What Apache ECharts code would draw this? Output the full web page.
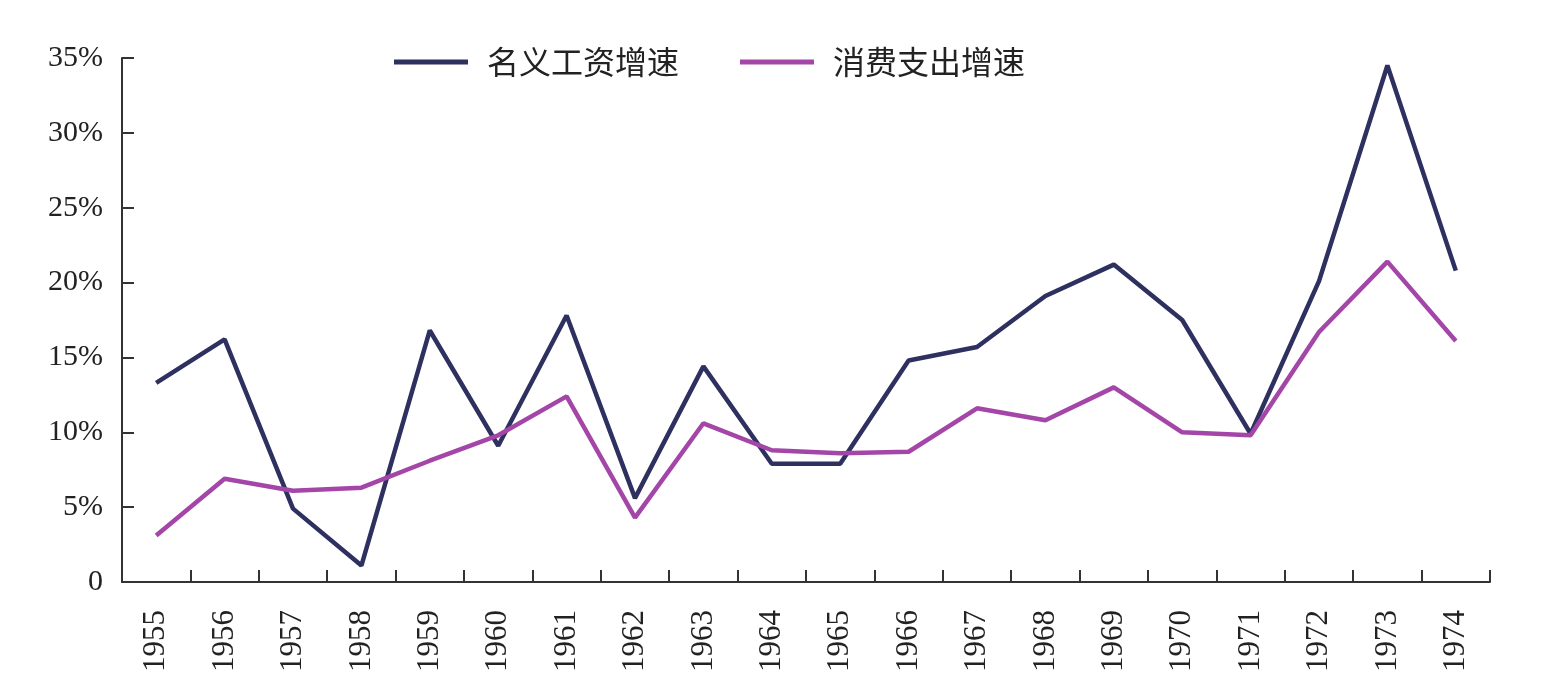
<!DOCTYPE html>
<html><head><meta charset="utf-8">
<script src="https://cdn.jsdelivr.net/npm/echarts@6/dist/echarts.min.js"></script>
<style>html,body{margin:0;padding:0;background:#fff}#c{width:1544px;height:695px}</style>
</head><body><div id="c"></div>
<script>
const years = ['1955','1956','1957','1958','1959','1960','1961','1962','1963','1964','1965','1966','1967','1968','1969','1970','1971','1972','1973','1974'];
const wageGrowth = [13.3,16.2,4.9,1.1,16.8,9.1,17.8,5.6,14.4,7.9,7.9,14.8,15.7,19.1,21.2,17.5,9.9,20.1,34.5,20.8];
const consumptionGrowth = [3.1,6.9,6.1,6.3,8.1,9.8,12.4,4.3,10.6,8.8,8.6,8.7,11.6,10.8,13.0,10.0,9.8,16.7,21.4,16.1];
const seriesNames = ['名义工资增速','消费支出增速'];

const chart = echarts.init(document.getElementById('c'));
const serif = '"Liberation Serif","DejaVu Serif",serif';
chart.setOption({
  animation:false,
  backgroundColor:'#fff',
  grid:{left:122,right:54,top:58,bottom:113},
  legend:{
    left:389, top:41, itemWidth:74, itemHeight:5, itemGap:61,
    icon:'rect',
    textStyle:{fontFamily:'"Noto Sans CJK SC",sans-serif',fontSize:32,color:'#222',padding:[0,0,0,14]},
    data:seriesNames
  },
  xAxis:{
    type:'category', data:years, boundaryGap:true,
    axisLine:{show:true,lineStyle:{color:'#333',width:2}},
    axisTick:{show:true,interval:0,inside:true,length:12,lineStyle:{color:'#333',width:2}},
    axisLabel:{interval:0,rotate:90,margin:28,fontFamily:serif,fontSize:31,color:'#222'}
  },
  yAxis:{
    type:'value', min:0, max:35, interval:5,
    splitLine:{show:false},
    axisLine:{show:true,lineStyle:{color:'#333',width:2}},
    axisTick:{show:true,inside:true,length:12,lineStyle:{color:'#333',width:2}},
    axisLabel:{fontFamily:serif,fontSize:30,color:'#222',margin:19,padding:[10,0,0,0],
      formatter:v=>v===0?'0':v+'%'}
  },
  series:[
    {name:seriesNames[0],type:'line',data:wageGrowth,showSymbol:false,symbol:'none',
     lineStyle:{color:'#2e3060',width:4.5},itemStyle:{color:'#2e3060'}},
    {name:seriesNames[1],type:'line',data:consumptionGrowth,showSymbol:false,symbol:'none',
     lineStyle:{color:'#a346a8',width:4.5},itemStyle:{color:'#a346a8'}}
  ]
});
</script></body></html>
